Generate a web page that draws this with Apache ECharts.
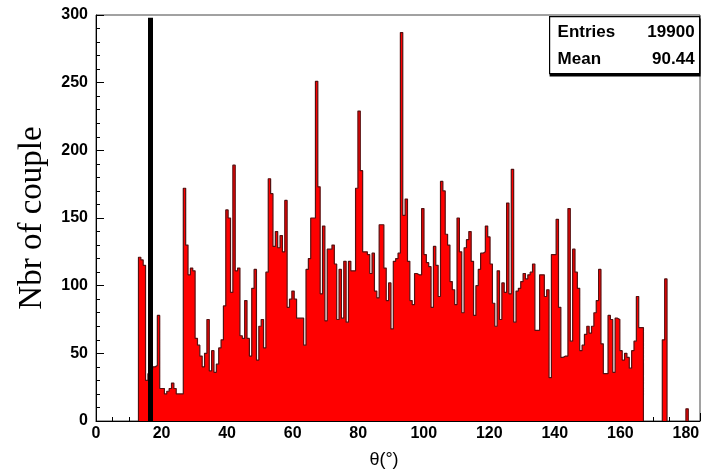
<!DOCTYPE html>
<html>
<head>
<meta charset="utf-8">
<script src="https://cdn.jsdelivr.net/npm/echarts@6/dist/echarts.min.js"></script>
<style>
    html, body { margin: 0; padding: 0; background: #fff; }
    #chart { width: 703px; height: 474px; }
</style>
</head>
<body>
<div id="chart"></div>
<script>
// histogram bins are 0.72 deg wide, first filled bin is number 18
const binWidth = 0.72;
const firstBin = 18;

const countsA = [
    121, 119, 115, 30, 35, 38, 40, 41, 78, 24, 24, 20, 22, 24, 28, 24, 20, 20, 20,
    172, 130, 108, 113, 111, 61, 56, 48, 40, 50, 75, 37, 52, 36, 42, 54, 60, 85,
    156, 150, 95, 189, 111, 113, 63, 61, 89, 61, 48, 98, 112, 45, 70,
];
const countsB = [
    75, 54, 110, 179, 168, 129, 140, 128, 137, 125, 163, 84, 90, 96, 90, 76, 76,
    76, 56, 112, 120, 150, 150, 251, 173, 94, 144, 74, 127, 127, 130, 116, 75, 112,
    76, 118, 73, 118, 111, 111, 172, 229, 185, 125, 125, 123, 109, 124, 96, 91,
    145, 145, 113, 89, 102, 68, 118, 120, 124, 287,
];
const countsC = [
    152, 164, 118, 89, 86, 109, 108, 108, 157, 123, 117, 114, 84, 129, 115, 92,
    177, 170, 138, 130, 103, 97, 86, 150, 125, 80, 128, 134, 140, 118, 78, 100,
    112, 124, 125, 144, 136, 116, 87, 70, 111, 75, 102, 95, 161, 94, 186, 73, 96,
    98, 103, 109, 105, 108, 110, 116, 67, 67, 108, 108,
];
const countsD = [
    92, 97, 32, 123, 123, 149, 84, 47, 48, 48, 157, 59, 127, 110, 98, 52, 56, 64,
    70, 65, 70, 80, 89, 112, 57, 35, 35, 78, 75, 36, 76, 75, 52, 45, 50, 47, 39,
    52, 59, 92, 69, 69,
];
// lone bins after the main body
const extraBins = [240, 241, 250];
const extraCounts = [60, 105, 9];

const xTicks = { min: 0, max: 184.3, step: 20 };
const yTicks = { min: 0, max: 300, step: 50 };
const cutPosition = 16.7;

const statsRows = [
    ['Entries', '19900'],
    ['Mean', '90.44'],
];

function collectBins() {
    const bins = [];
    const counts = countsA.concat(countsB, countsC, countsD);
    counts.forEach((c, i) => bins.push([firstBin + i, c]));
    extraBins.forEach((b, i) => bins.push([b, extraCounts[i]]));
    return bins;
}

// split bins into contiguous runs and turn each into step points
function stepSegments(bins) {
    const segments = [];
    let current = null;
    bins.forEach(([b, c]) => {
        if (!current || b !== current.last + 1) {
            current = { start: b, last: b, points: [] };
            segments.push(current);
            current.points.push([b * binWidth, 0]);
        }
        current.points.push([b * binWidth, c]);
        current.last = b;
    });
    segments.forEach((s) => {
        s.points.push([(s.last + 1) * binWidth, 0]);
    });
    return segments.map((s) => s.points);
}

const axisFont = {
    color: '#000',
    fontFamily: 'Liberation Sans',
    fontWeight: 'bold',
    fontSize: 16,
};

const segments = stepSegments(collectBins());

const series = segments.map((points, i) => ({
    type: 'line',
    step: 'end',
    data: points,
    symbol: 'none',
    lineStyle: { color: '#561010', width: 1.2 },
    areaStyle: { color: '#ff0000', opacity: 1 },
    z: 2,
    markLine: i === 0 ? {
        silent: true,
        symbol: ['none', 'none'],
        label: { show: false },
        lineStyle: { color: '#000', width: 5, type: 'solid' },
        data: [[{ coord: [cutPosition, 0] }, { coord: [cutPosition, 298] }]],
    } : undefined,
}));

const chart = echarts.init(document.getElementById('chart'));

chart.setOption({
    animation: false,
    grid: {
        left: 96,
        right: 3,
        top: 15,
        bottom: 50,
        show: true,
        borderColor: '#444',
        borderWidth: 1,
    },
    xAxis: {
        type: 'value',
        min: xTicks.min,
        max: xTicks.max,
        interval: xTicks.step,
        name: 'θ(°)',
        nameLocation: 'middle',
        nameGap: 30,
        nameTextStyle: {
            color: '#000',
            fontFamily: 'Liberation Sans',
            fontSize: 18,
            padding: [0, 28, 0, 0],
        },
        axisLine: { lineStyle: { color: '#000', width: 1 } },
        axisTick: { inside: true, length: 8, lineStyle: { color: '#000' } },
        minorTick: { show: true, splitNumber: 4, length: 4, lineStyle: { color: '#000' } },
        splitLine: { show: false },
        axisLabel: Object.assign({ margin: 5, showMaxLabel: false }, axisFont),
    },
    yAxis: {
        type: 'value',
        min: yTicks.min,
        max: yTicks.max,
        interval: yTicks.step,
        name: 'Nbr of couple',
        nameLocation: 'middle',
        nameGap: 47,
        nameTextStyle: {
            color: '#000',
            fontFamily: 'Liberation Serif',
            fontSize: 33,
        },
        axisLine: { show: true, lineStyle: { color: '#000', width: 1 } },
        axisTick: { inside: true, length: 8, lineStyle: { color: '#000' } },
        minorTick: { show: true, splitNumber: 5, length: 4, lineStyle: { color: '#000' } },
        splitLine: { show: false },
        axisLabel: Object.assign({ margin: 8 }, axisFont),
    },
    series: series,
    graphic: [
        {
            type: 'group',
            left: 549,
            top: 16,
            children: [
                { type: 'rect', shape: { x: 0, y: 2, width: 151, height: 58 }, style: { fill: '#000' } },
                { type: 'rect', shape: { x: 0, y: 0, width: 150, height: 57 }, style: { fill: '#fff', stroke: '#000', lineWidth: 1.2 } },
            ].concat(...statsRows.map((row, i) => [
                {
                    type: 'text',
                    x: 8,
                    y: 16 + i * 27,
                    style: {
                        text: row[0], fill: '#000', fontFamily: 'Liberation Sans',
                        fontWeight: 'bold', fontSize: 17, verticalAlign: 'middle',
                    },
                },
                {
                    type: 'text',
                    x: 145,
                    y: 16 + i * 27,
                    style: {
                        text: row[1], fill: '#000', fontFamily: 'Liberation Sans',
                        fontWeight: 'bold', fontSize: 17, align: 'right', verticalAlign: 'middle',
                    },
                },
            ])),
        },
    ],
});
</script>
</body>
</html>
